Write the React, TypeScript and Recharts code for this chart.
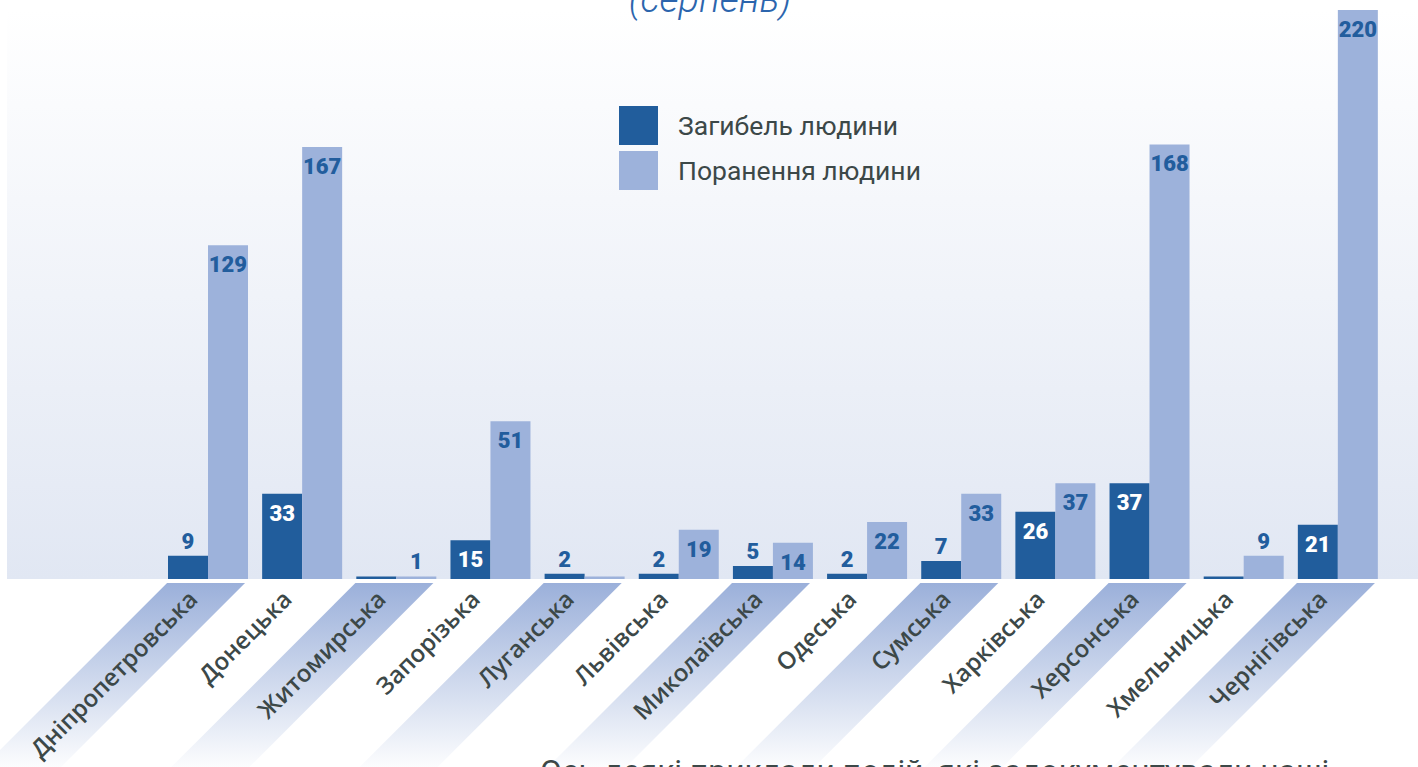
import { Bar, BarChart, CartesianGrid, LabelList, XAxis, YAxis } from "recharts";

// Загибель і поранення людей за областями (серпень)
const oblasti = [
  "Дніпропетровська",
  "Донецька",
  "Житомирська",
  "Запорізька",
  "Луганська",
  "Львівська",
  "Миколаївська",
  "Одеська",
  "Сумська",
  "Харківська",
  "Херсонська",
  "Хмельницька",
  "Чернігівська",
];
// висоти стовпчиків, як на картинці
const zahybel = [9, 33, 1, 15, 2, 2, 5, 2, 7, 26, 37, 1, 21];
const poranennia = [129, 167, 1, 61, 1, 19, 14, 22, 33, 37, 168, 9, 220];
// підписи над стовпчиками (у Запорізькій на оригіналі підпис 51, хоч стовпчик вищий); null — без підпису
const pidpysyZahybel = [9, 33, null, 15, 2, 2, 5, 2, 7, 26, 37, null, 21];
const pidpysyPoranennia = [129, 167, 1, 51, null, 19, 14, 22, 33, 37, 168, 9, 220];

const seriji = [
  { key: "zahybel", label: "Загибель людини", cor: "#215d9c" },
  { key: "poranennia", label: "Поранення людини", cor: "#9db2db" },
];

const data = oblasti.map((o, i) => ({ oblast: o, zahybel: zahybel[i], poranennia: poranennia[i] }));

const TEXT = "#3c4848";
const SYNIJ = "#225d9d";

const pidpys = (vseredyniKolir: string, pidpysy: (number | null)[]) => (p: any) => {
  const vb = p.viewBox ?? p;
  const x = p.x ?? vb.x;
  const y = p.y ?? vb.y;
  const width = p.width ?? vb.width;
  const height = p.height ?? vb.height;
  const t = pidpysy[p.index];
  if (t == null) return null;
  const vseredyni = height >= 30;
  return (
    <text
      x={x + width / 2}
      y={vseredyni ? y + 27 : y - 7}
      textAnchor="middle"
      fill={vseredyni ? vseredyniKolir : SYNIJ}
      fontSize={22}
      fontWeight={900}
      fontFamily="Roboto"
    >
      {t}
    </text>
  );
};

function Tick(props: any) {
  const { x, y, payload, index } = props;
  const L = 190;
  return (
    <g transform={`translate(${x},${y})`}>
      {index % 2 === 0 && (
        <polygon points={`-41,2 37,2 ${37 - L},${2 + L} ${-41 - L},${2 + L}`} fill="url(#tickFade)" />
      )}
      <text
        transform="translate(-9,20) rotate(-45)"
        textAnchor="end"
        fill={TEXT}
        fontSize={24}
        fontWeight={600}
        fontFamily="Open Sans"
      >
        {payload.value}
      </text>
    </g>
  );
}

export default function App() {
  return (
    <div style={{ position: "absolute", left: 0, top: 0, width: 1418, height: 767, overflow: "hidden", background: "#fff" }}>
      <BarChart
        width={1418}
        height={767}
        data={data}
        margin={{ top: 10, right: 0, bottom: 0, left: 7 }}
        barCategoryGap={7}
        barGap={0}
      >
        <defs>
          <linearGradient id="tlo" x1="0" y1="0" x2="0" y2="1">
            <stop offset="0%" stopColor="#ffffff" />
            <stop offset="100%" stopColor="#e1e7f3" />
          </linearGradient>
          <linearGradient id="tickFade" x1="0" y1="0" x2="0" y2="1">
            <stop offset="0%" stopColor="#9bb0da" stopOpacity={1} />
            <stop offset="100%" stopColor="#9bb0da" stopOpacity={0} />
          </linearGradient>
        </defs>
        <CartesianGrid horizontal={false} vertical={false} stroke="none" fill="url(#tlo)" />
        <XAxis
          dataKey="oblast"
          height={188}
          padding={{ left: 154, right: 33 }}
          tick={<Tick />}
          tickLine={false}
          axisLine={false}
          tickSize={0}
          interval={0}
        />
        <YAxis hide domain={[0, 220]} />
        <Bar dataKey="zahybel" name={seriji[0].label} fill={seriji[0].cor} isAnimationActive={false}>
          <LabelList dataKey="zahybel" content={pidpys("#ffffff", pidpysyZahybel)} />
        </Bar>
        <Bar dataKey="poranennia" name={seriji[1].label} fill={seriji[1].cor} isAnimationActive={false}>
          <LabelList dataKey="poranennia" content={pidpys(SYNIJ, pidpysyPoranennia)} />
        </Bar>
      </BarChart>
      <svg width={1418} height={767} style={{ position: "absolute", left: 0, top: 0, pointerEvents: "none" }}>
        <text x={710} y={12} textAnchor="middle" fill="#2c65ad" fontSize={38} fontStyle="italic" fontWeight={300} fontFamily="Roboto">
          (серпень)
        </text>
        {seriji.map((s, i) => (
          <g key={s.key} transform={`translate(619,${106 + i * 45})`}>
            <rect width={39} height={39} fill={s.cor} />
            <text x={59} y={29} fill={TEXT} fontSize={26.5} fontFamily="Roboto">
              {s.label}
            </text>
          </g>
        ))}
        <text x={540} y={782} fill={TEXT} fontSize={31.8} fontFamily="Roboto">
          Ось деякі приклади подій, які задокументували наші
        </text>
      </svg>
    </div>
  );
}
